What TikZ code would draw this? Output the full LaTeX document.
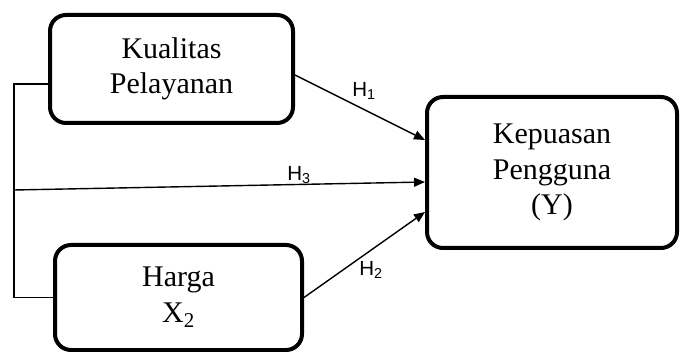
\documentclass[tikz,border=0pt]{standalone}
\usepackage{fontspec}
\setmainfont{Liberation Serif}
\newfontfamily\labfont{Liberation Sans}
\usetikzlibrary{arrows.meta}
\begin{document}
\begin{tikzpicture}[x=1pt,y=-1pt,
  box/.style={draw, line width=4pt, rounded corners=16pt, inner sep=0pt, align=center,
    font=\fontsize{30}{35.5}\selectfont},
  conn/.style={line width=1.4pt},
  arr/.style={conn, -{Triangle[length=11pt,width=9pt]}},
  hlab/.style={font=\labfont\fontsize{20.5}{22}\selectfont, inner sep=0pt}]
\useasboundingbox (0,0) rectangle (684,352);
\node[box, minimum width=243pt, minimum height=108pt] (k) at (171.5,69) {Kualitas\\Pelayanan};
\node[box, minimum width=247pt, minimum height=105pt] (h) at (178.5,297.5) {Harga\\X\textsubscript{2}};
\node[box, minimum width=250pt, minimum height=151pt] (y) at (552,172.5) {Kepuasan\\Pengguna\\(Y)};
\coordinate (s) at (14,190);
\draw[conn] ([yshift=-15pt]k.west) -- ++(-34,0) |- (h.west);
\draw[arr] (s) -- ([yshift=-9.5pt]y.west);
\draw[arr] ([yshift=-6pt]k.east) -- ([yshift=32.5pt]y.west);
\draw[arr] (h.east) -- ([yshift=-39.5pt]y.west);
\node[hlab] (l1) at (364,91) {H\textsubscript{1}};
\node[hlab] (l3) at (299,175) {H\textsubscript{3}};
\node[hlab] (l2) at (371,270) {H\textsubscript{2}};
\end{tikzpicture}
\end{document}
